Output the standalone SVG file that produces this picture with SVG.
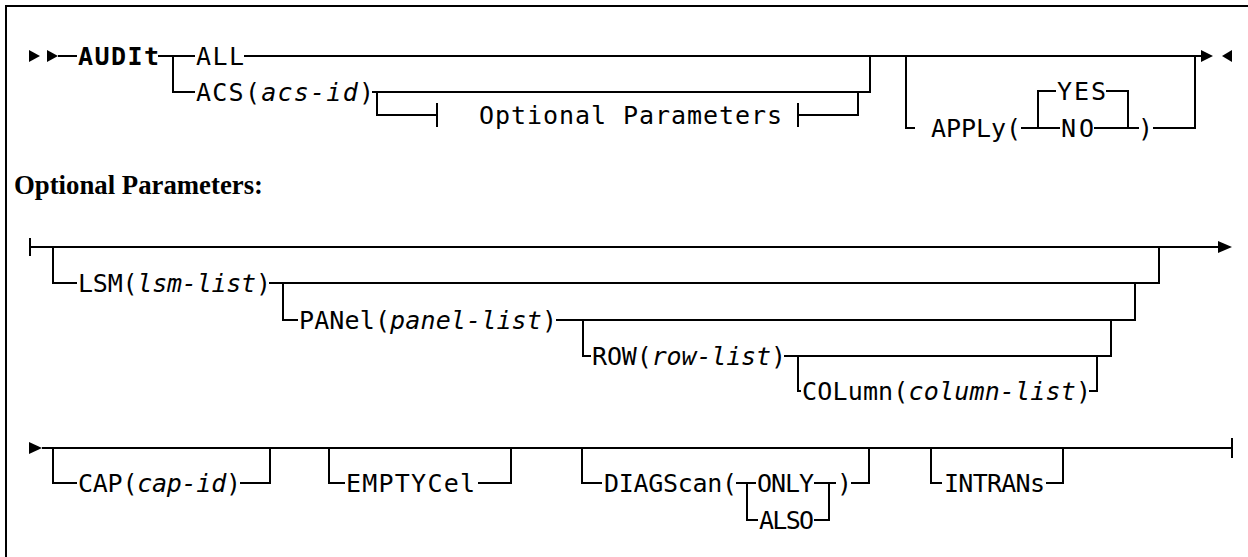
<svg xmlns="http://www.w3.org/2000/svg" width="1248" height="557" viewBox="0 0 1248 557">
<style>
  .ln{fill:none;stroke:#000;stroke-width:2}
  .ar{fill:#000;stroke:none}
  .t{font-family:"DejaVu Sans Mono","Liberation Mono",monospace;font-size:25px;fill:#000}
  .b{font-weight:bold}
  .i{font-style:italic}
  .h{font-family:"Liberation Serif","Times New Roman",serif;font-size:27px;font-weight:bold;fill:#000}
</style>
<rect width="1248" height="557" fill="#fff"/>
<g id="frame"><path class="ln" d="M6,557 V6 H1248"/></g>

<g id="connectors">
  <!-- top diagram -->
  <polygon class="ar" points="29,50 40,56 29,62"/>
  <polygon class="ar" points="47,50 58,56 47,62"/>
  <path class="ln" d="M58,56 H77"/>
  <path class="ln" d="M158,56 H195"/>
  <path class="ln" d="M173,56 V92 H195"/>
  <path class="ln" d="M244,56 H1201"/>
  <polygon class="ar" points="1201,50 1213,56 1201,62"/>
  <polygon class="ar" points="1232,50 1222,56 1232,62"/>
  <path class="ln" d="M372,92 H870 V56"/>
  <path class="ln" d="M377,92 V115 H437"/>
  <path class="ln" d="M437,103 V127"/>
  <path class="ln" d="M798,103 V127"/>
  <path class="ln" d="M798,115 H858 V92"/>
  <path class="ln" d="M906,56 V128 H915"/>
  <path class="ln" d="M1021,128 H1060"/>
  <path class="ln" d="M1038,128 V91 H1056"/>
  <path class="ln" d="M1106,91 H1128 V128"/>
  <path class="ln" d="M1094,128 H1139"/>
  <path class="ln" d="M1153,128 H1195 V56"/>
  <!-- optional parameters first line -->
  <path class="ln" d="M30,238 V256"/>
  <path class="ln" d="M30,247 H1219"/>
  <polygon class="ar" points="1218,241 1232,247 1218,253"/>
  <path class="ln" d="M53,247 V283 H77"/>
  <path class="ln" d="M269,283 H1159 V247"/>
  <path class="ln" d="M283,283 V320 H298"/>
  <path class="ln" d="M556,320 H1135 V283"/>
  <path class="ln" d="M583,320 V356 H591"/>
  <path class="ln" d="M784,356 H1111 V320"/>
  <path class="ln" d="M798,356 V391 H801"/>
  <path class="ln" d="M1089,391 H1097 V356"/>
  <!-- optional parameters second line -->
  <polygon class="ar" points="29,442 42,448 29,454"/>
  <path class="ln" d="M42,448 H1232"/>
  <path class="ln" d="M1232,438 V458"/>
  <path class="ln" d="M53,448 V483 H77"/>
  <path class="ln" d="M240,483 H270 V448"/>
  <path class="ln" d="M329,448 V483 H345"/>
  <path class="ln" d="M478,483 H511 V448"/>
  <path class="ln" d="M582,448 V483 H602"/>
  <path class="ln" d="M736,483 H756"/>
  <path class="ln" d="M747,483 V520 H758"/>
  <path class="ln" d="M814,483 H836"/>
  <path class="ln" d="M814,520 H829 V483"/>
  <path class="ln" d="M851,483 H869 V448"/>
  <path class="ln" d="M931,448 V483 H942"/>
  <path class="ln" d="M1046,483 H1063 V448"/>
</g>

<g id="n-audit"><text class="t b" x="78" y="65" textLength="81" lengthAdjust="spacing">AUDIt</text></g>
<g id="n-all"><text class="t" x="196" y="65" textLength="48" lengthAdjust="spacing">ALL</text></g>
<g id="n-acs"><text class="t" x="196" y="101" textLength="178" lengthAdjust="spacing">ACS(<tspan class="i">acs-id</tspan>)</text></g>
<g id="n-optref"><text class="t" x="479" y="124" textLength="303" lengthAdjust="spacing">Optional Parameters</text></g>
<g id="n-apply"><text class="t" x="931" y="137" textLength="90" lengthAdjust="spacing">APPLy(</text></g>
<g id="n-yes"><text class="t" x="1057" y="100" textLength="49" lengthAdjust="spacing">YES</text></g>
<g id="n-no"><text class="t" x="1061" y="137" textLength="33" lengthAdjust="spacing">NO</text></g>
<g id="n-apply-close"><text class="t" x="1138" y="137">)</text></g>

<g id="n-optheading"><text class="h" x="14" y="194" textLength="249" lengthAdjust="spacingAndGlyphs">Optional Parameters:</text></g>

<g id="n-lsm"><text class="t" x="78" y="292" textLength="193" lengthAdjust="spacing">LSM(<tspan class="i">lsm-list</tspan>)</text></g>
<g id="n-panel"><text class="t" x="299" y="329" textLength="258" lengthAdjust="spacing">PANel(<tspan class="i">panel-list</tspan>)</text></g>
<g id="n-row"><text class="t" x="592" y="365" textLength="194" lengthAdjust="spacing">ROW(<tspan class="i">row-list</tspan>)</text></g>
<g id="n-column"><text class="t" x="802" y="400" textLength="289" lengthAdjust="spacing">COLumn(<tspan class="i">column-list</tspan>)</text></g>

<g id="n-cap"><text class="t" x="78" y="492" textLength="163" lengthAdjust="spacing">CAP(<tspan class="i">cap-id</tspan>)</text></g>
<g id="n-emptycel"><text class="t" x="346" y="492" textLength="129" lengthAdjust="spacing">EMPTYCel</text></g>
<g id="n-diagscan"><text class="t" x="604" y="492" textLength="133" lengthAdjust="spacing">DIAGScan(</text></g>
<g id="n-only"><text class="t" x="757" y="492" textLength="57" lengthAdjust="spacing">ONLY</text></g>
<g id="n-also"><text class="t" x="759" y="529" textLength="55" lengthAdjust="spacing">ALSO</text></g>
<g id="n-diag-close"><text class="t" x="837" y="492">)</text></g>
<g id="n-intrans"><text class="t" x="944" y="492" textLength="101" lengthAdjust="spacing">INTRANs</text></g>
</svg>
